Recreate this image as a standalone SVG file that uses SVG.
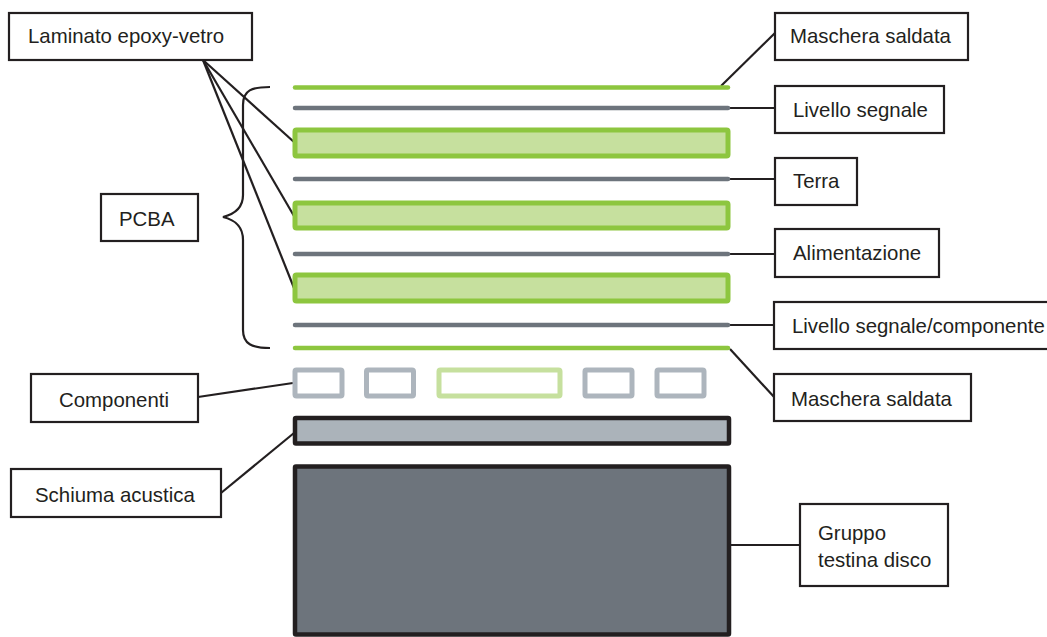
<svg xmlns="http://www.w3.org/2000/svg" width="1047" height="637" viewBox="0 0 1047 637">
<style>
.box{fill:#fff;stroke:#231f20;stroke-width:2.2}
.lbl{font-family:"Liberation Sans",Arial,sans-serif;font-size:20.4px;fill:#231f20}
.con{stroke:#231f20;stroke-width:2.2;fill:none}
.gl{stroke:#8dc63f;stroke-width:4.5;stroke-linecap:round}
.gy{stroke:#6d747c;stroke-width:4.5;stroke-linecap:round}
.lam{fill:#c6e09e;stroke:#8dc63f;stroke-width:5}
.cmp{fill:#fff;stroke:#adb5bd;stroke-width:5}
.cmpg{fill:#fff;stroke:#c6e09e;stroke-width:5}
</style>
<rect width="1047" height="637" fill="#fff"/>
<g id="connectors">
<line class="con" x1="203" y1="60" x2="294" y2="142"/>
<line class="con" x1="203" y1="60" x2="294" y2="216"/>
<line class="con" x1="203" y1="60" x2="294" y2="288"/>
<line class="con" x1="721" y1="86" x2="775" y2="33"/>
<line class="con" x1="730" y1="108" x2="775" y2="108"/>
<line class="con" x1="730" y1="179" x2="775" y2="179"/>
<line class="con" x1="730" y1="254" x2="775" y2="254"/>
<line class="con" x1="730" y1="325" x2="775" y2="325"/>
<line class="con" x1="730" y1="349" x2="775" y2="398"/>
<line class="con" x1="198" y1="397" x2="293" y2="383"/>
<line class="con" x1="221" y1="493" x2="294" y2="433"/>
<line class="con" x1="731" y1="545" x2="800" y2="545"/>
<path class="con" stroke-width="2.5" d="M270,87 C252,87 243,90 243,105 L243,195 C243,208 235,214 223,217 C235,220 243,226 243,240 L243,330 C243,344 252,348 270,348"/>
</g>
<g id="layers">
<line class="gl" x1="295" y1="87.5" x2="728" y2="87.5"/>
<line class="gy" x1="295" y1="108" x2="728" y2="108"/>
<rect class="lam" x="295" y="130" width="433" height="26" rx="1.5"/>
<line class="gy" x1="295" y1="179" x2="728" y2="179"/>
<rect class="lam" x="295" y="203" width="433" height="25" rx="1.5"/>
<line class="gy" x1="295" y1="254" x2="728" y2="254"/>
<rect class="lam" x="295" y="275" width="433" height="26" rx="1.5"/>
<line class="gy" x1="295" y1="325" x2="728" y2="325"/>
<line class="gl" x1="295" y1="348" x2="728" y2="348"/>
</g>
<g id="components">
<rect class="cmp" x="295" y="370" width="47" height="26" rx="1.5"/>
<rect class="cmp" x="366.5" y="370" width="47" height="26" rx="1.5"/>
<rect class="cmpg" x="439" y="370" width="121" height="26" rx="1.5"/>
<rect class="cmp" x="585" y="370" width="47" height="26" rx="1.5"/>
<rect class="cmp" x="657" y="370" width="47" height="26" rx="1.5"/>
</g>
<g id="foam">
<rect x="295" y="418" width="434" height="25.5" fill="#abb3ba" stroke="#231f20" stroke-width="4.5" rx="1"/>
</g>
<g id="disk-head">
<rect x="295" y="466.5" width="434" height="168" fill="#6d747c" stroke="#231f20" stroke-width="4.5" rx="1"/>
</g>
<g id="n-laminato">
<rect class="box" x="9" y="13" width="243" height="47"/>
<text class="lbl" x="28" y="43">Laminato epoxy-vetro</text>
</g>
<g id="n-pcba">
<rect class="box" x="101" y="194" width="97" height="47"/>
<text class="lbl" x="119" y="226">PCBA</text>
</g>
<g id="n-componenti">
<rect class="box" x="31" y="374" width="167" height="48"/>
<text class="lbl" x="59" y="407">Componenti</text>
</g>
<g id="n-schiuma">
<rect class="box" x="11" y="469" width="210" height="48"/>
<text class="lbl" x="35" y="502">Schiuma acustica</text>
</g>
<g id="n-maschera-top">
<rect class="box" x="775" y="13" width="193" height="47"/>
<text class="lbl" x="790" y="43">Maschera saldata</text>
</g>
<g id="n-livello">
<rect class="box" x="775" y="86" width="169" height="47"/>
<text class="lbl" x="793" y="117">Livello segnale</text>
</g>
<g id="n-terra">
<rect class="box" x="775" y="158" width="82" height="47"/>
<text class="lbl" x="793" y="188">Terra</text>
</g>
<g id="n-alimentazione">
<rect class="box" x="775" y="229" width="164" height="48"/>
<text class="lbl" x="793" y="260">Alimentazione</text>
</g>
<g id="n-livello-comp">
<rect class="box" x="774" y="302" width="280" height="47"/>
<text class="lbl" x="792" y="333">Livello segnale/componente</text>
</g>
<g id="n-maschera-bottom">
<rect class="box" x="774" y="374" width="197" height="47"/>
<text class="lbl" x="791" y="406">Maschera saldata</text>
</g>
<g id="n-gruppo">
<rect class="box" x="800" y="504" width="148" height="82"/>
<text class="lbl" x="818" y="540">Gruppo</text>
<text class="lbl" x="818" y="567">testina disco</text>
</g>
</svg>
